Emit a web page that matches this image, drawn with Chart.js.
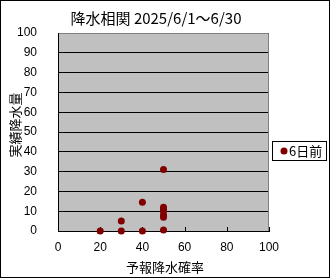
<!DOCTYPE html>
<html>
<head>
<meta charset="utf-8">
<script src="https://cdn.jsdelivr.net/npm/chart.js@4"></script>
<style>
  html, body { margin: 0; padding: 0; background: #fff; }
  canvas { display: block; }
</style>
</head>
<body>
<canvas id="corrChart" width="330" height="279"></canvas>
<script>
// Chart data
const chartTitle = '降水相関 2025/6/1～6/30';
const xTitle = '予報降水確率';
const yTitle = '実績降水量';
const seriesLabel = '6日前';
const forecastPct = [20, 30, 30, 40, 40, 50, 50, 50, 50, 50, 50, 50];
const actualMm = [0, 0, 5, 0, 14.5, 0.5, 7, 8, 10, 11, 12, 31];
const xTicks = [0, 20, 40, 60, 80, 100];
const yTicks = [0, 10, 20, 30, 40, 50, 60, 70, 80, 90, 100];

const CJK = '"Noto Sans CJK JP", sans-serif';
const NUM = '"Liberation Sans", Arial, sans-serif';

// Excel-like frame, plot background, inner tick marks and texts
const excelLook = {
  id: 'excelLook',
  beforeDraw(chart) {
    const { ctx, chartArea: a } = chart;
    ctx.save();
    ctx.fillStyle = '#fff';
    ctx.fillRect(0, 0, chart.width, chart.height);
    ctx.fillStyle = '#c0c0c0';
    ctx.fillRect(a.left, a.top, a.right - a.left, a.bottom - a.top);
    ctx.restore();
  },
  beforeDatasetsDraw(chart) {
    const { ctx, chartArea: a } = chart;
    const xs = chart.scales.x;
    ctx.save();
    // plot border: grey top/right, black left axis
    ctx.lineWidth = 1;
    ctx.strokeStyle = '#808080';
    ctx.beginPath();
    ctx.moveTo(a.left, a.top + 0.5);
    ctx.lineTo(a.right - 0.5, a.top + 0.5);
    ctx.lineTo(a.right - 0.5, a.bottom);
    ctx.stroke();
    ctx.strokeStyle = '#000';
    ctx.beginPath();
    ctx.moveTo(a.left + 0.5, a.top);
    ctx.lineTo(a.left + 0.5, a.bottom);
    ctx.stroke();
    // x tick marks pointing inwards
    ctx.beginPath();
    xTicks.forEach(v => {
      const px = Math.round(xs.getPixelForValue(v)) + 0.5;
      ctx.moveTo(px, a.bottom);
      ctx.lineTo(px, a.bottom - 4);
    });
    ctx.stroke();
    ctx.restore();
  },
  afterDraw(chart) {
    const { ctx } = chart;
    ctx.save();
    ctx.lineWidth = 1;
    ctx.strokeStyle = '#000';
    // outer frame
    ctx.strokeRect(0.5, 0.5, 329, 277);

    // texts
    ctx.fillStyle = '#000';
    ctx.textAlign = 'center';
    ctx.textBaseline = 'middle';
    ctx.font = '15px ' + CJK;
    ctx.fillText(chartTitle, 156, 18);
    ctx.font = '13px ' + CJK;
    ctx.fillText(xTitle, 165, 267);
    ctx.translate(15, 125);
    ctx.rotate(-Math.PI / 2);
    ctx.fillText(yTitle, 0, 0);
    ctx.setTransform(1, 0, 0, 1, 0, 0);

    // legend box
    ctx.fillStyle = '#fff';
    ctx.fillRect(272, 141, 55, 20);
    ctx.strokeRect(272.5, 141.5, 54, 19);
    const ds = chart.data.datasets[0];
    ctx.fillStyle = ds.backgroundColor;
    ctx.beginPath();
    ctx.arc(284, 151, 3.5, 0, Math.PI * 2);
    ctx.fill();
    ctx.fillStyle = '#000';
    ctx.textAlign = 'left';
    ctx.font = '13px ' + CJK;
    ctx.fillText(ds.label, 289, 151);
    ctx.restore();
  }
};

new Chart(document.getElementById('corrChart'), {
  type: 'scatter',
  data: {
    datasets: [{
      label: seriesLabel,
      data: forecastPct.map((x, i) => ({ x: x, y: actualMm[i] })),
      backgroundColor: '#800000',
      borderColor: '#800000',
      pointRadius: 3.5,
      pointBorderWidth: 0,
      clip: false
    }]
  },
  options: {
    responsive: false,
    animation: false,
    layout: { padding: { top: 33, right: 61, left: 0, bottom: 0 } },
    plugins: {
      legend: { display: false },
      title: { display: false },
      tooltip: { enabled: false }
    },
    scales: {
      x: {
        type: 'linear',
        min: 0,
        max: 100,
        afterBuildTicks: s => { s.ticks = xTicks.map(v => ({ value: v })); },
        afterFit: s => { s.height = 48; },
        grid: { display: false, drawTicks: false },
        border: { display: true, color: '#000', width: 1 },
        ticks: { color: '#000', padding: 9, maxRotation: 0, font: { family: NUM, size: 12 } }
      },
      y: {
        type: 'linear',
        min: 0,
        max: 100,
        afterBuildTicks: s => { s.ticks = yTicks.map(v => ({ value: v })); },
        afterFit: s => { s.width = 58; },
        grid: { color: '#000', lineWidth: 1, drawTicks: false },
        border: { display: true, color: '#000', width: 1 },
        ticks: { color: '#000', padding: 21, font: { family: NUM, size: 12 } }
      }
    }
  },
  plugins: [excelLook]
});
</script>
</body>
</html>
